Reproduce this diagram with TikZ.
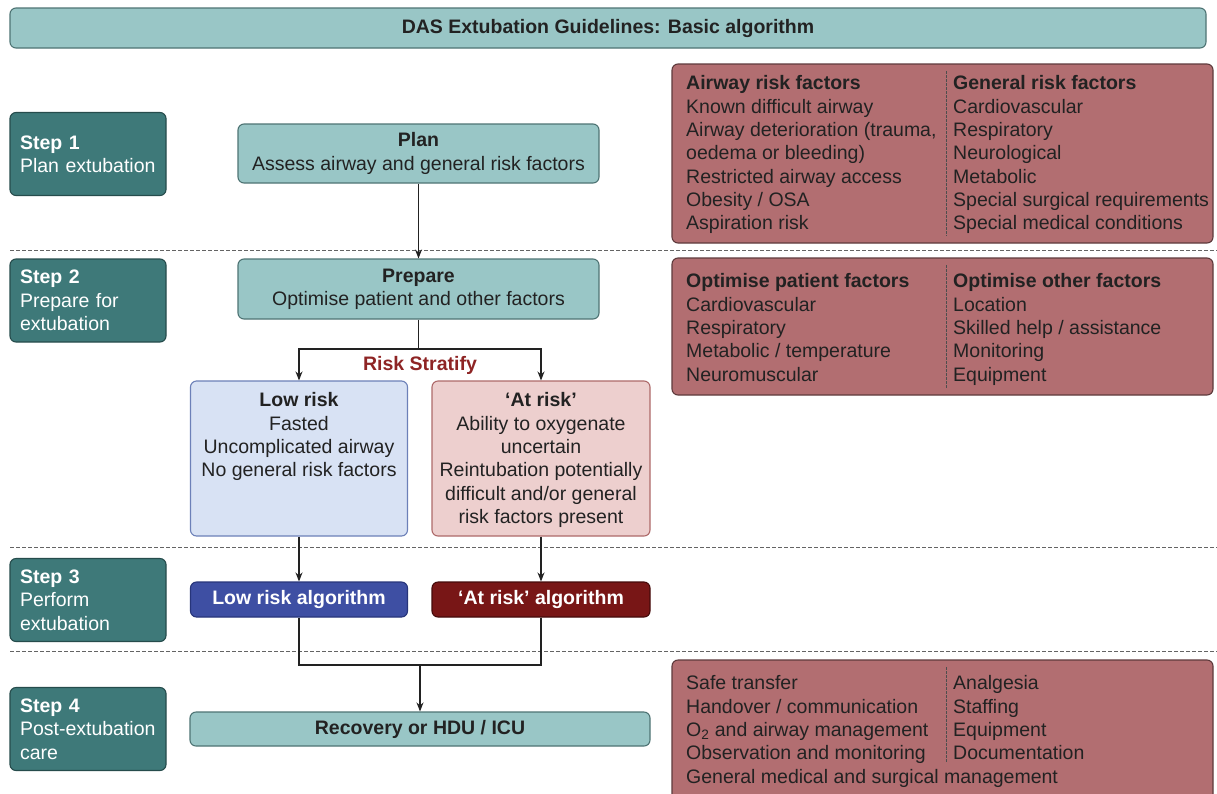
\documentclass[tikz,border=0pt]{standalone}
\usepackage{fontspec}
\setmainfont{Liberation Sans}
\usetikzlibrary{arrows.meta}
\definecolor{tealL}{HTML}{99C6C6}
\definecolor{tealLB}{HTML}{4E7474}
\definecolor{tealD}{HTML}{3E7979}
\definecolor{tealDB}{HTML}{264C4C}
\definecolor{rose}{HTML}{B26E71}
\definecolor{roseB}{HTML}{5E3A3C}
\definecolor{lowF}{HTML}{D8E2F4}
\definecolor{lowB}{HTML}{6C80B8}
\definecolor{atF}{HTML}{EDCFCE}
\definecolor{atB}{HTML}{AE6A6A}
\definecolor{lowA}{HTML}{3E4FA3}
\definecolor{lowAB}{HTML}{27357A}
\definecolor{atA}{HTML}{781616}
\definecolor{atAB}{HTML}{450A0A}
\definecolor{riskred}{HTML}{8E2424}
\definecolor{ink}{HTML}{222222}
\newcommand{\fl}{\vphantom{Alf}}
\begin{document}
\begin{tikzpicture}[x=1pt,y=-1pt,
  txt/.style={font=\fontsize{19.5}{23.3}\selectfont, text=ink},
  box/.style={draw, rounded corners=6pt, line width=1.1pt, inner sep=0pt},
  tealbox/.style={box, fill=tealL, draw=tealLB, txt, align=center},
  stepbox/.style={box, fill=tealD, draw=tealDB, txt, text=white, align=left,
     text width=136pt, inner xsep=10pt, minimum height=83pt},
  rosebox/.style={box, fill=rose, draw=roseB},
  coltxt/.style={txt, align=left, inner sep=0pt, anchor=north west},
  divider/.style={draw=ink!80, line width=0.8pt, dash pattern=on 2.5pt off 1.5pt},
  sepline/.style={draw=ink!70, line width=0.9pt, dash pattern=on 4pt off 2pt},
  conn/.style={draw=ink, line width=1.1pt},
  arr/.style={conn, -{Stealth[length=9pt,width=7pt]}}
]
\clip (0,0) rectangle (1217,793);
\fill[white] (0,0) rectangle (1217,793);

% title
\node[tealbox, minimum width=1196pt, minimum height=40pt, font=\bfseries\fontsize{19.5}{23.3}\selectfont] (title) at (608,28) {DAS Extubation Guidelines: Basic algorithm};

% separators
\coordinate (d1a) at (10,250); \coordinate (d1b) at (1217,250);
\coordinate (d2a) at (10,547); \coordinate (d2b) at (1217,547);
\coordinate (d3a) at (10,651); \coordinate (d3b) at (1217,651);
\draw[sepline] (d1a) -- (d1b);
\draw[sepline] (d2a) -- (d2b);
\draw[sepline] (d3a) -- (d3b);

% step boxes
\node[stepbox, minimum width=156pt] (s1) at (88,154) {\textbf{Step 1}\\Plan extubation};
\node[stepbox, minimum width=156pt] (s2) at (88,300.5) {\textbf{Step 2}\\Prepare for\\extubation};
\node[stepbox, minimum width=156pt] (s3) at (88,600) {\textbf{Step 3}\\Perform\\extubation};
\node[stepbox, minimum width=156pt] (s4) at (88,729) {\textbf{Step 4}\\Post-extubation\\care};

% main flow
\node[tealbox, minimum width=361pt, minimum height=59pt] (plan) at (418.5,153.5) {\textbf{Plan}\\Assess airway and general risk factors};
\node[tealbox, minimum width=361pt, minimum height=60pt] (prep) at (418.5,289) {\textbf{Prepare}\\Optimise patient and other factors};

\node[box, fill=lowF, draw=lowB, minimum width=217pt, minimum height=155pt] (low) at (299,458.5) {};
\node[box, fill=atF, draw=atB, minimum width=218pt, minimum height=155pt] (atr) at (541,458.5) {};
\node[txt, align=center, inner sep=0pt, anchor=north] (lowt) at (299,392.5) {\fl\textbf{Low risk}\\Fasted\\Uncomplicated airway\\No general risk factors};
\node[txt, align=center, inner sep=0pt, anchor=north] (atrt) at (541,392.5) {\fl\textbf{‘At risk’}\\Ability to oxygenate\\uncertain\\Reintubation potentially\\difficult and/or general\\risk factors present};

\node[box, fill=lowA, draw=lowAB, minimum width=217pt, minimum height=35pt, txt, text=white, font=\bfseries\fontsize{19.5}{23.3}\selectfont] (lowa) at (299,599.5) {Low risk algorithm};
\node[box, fill=atA, draw=atAB, minimum width=218pt, minimum height=35pt, txt, text=white, font=\bfseries\fontsize{19.5}{23.3}\selectfont] (atra) at (541,599.5) {‘At risk’ algorithm};

\node[tealbox, minimum width=460pt, minimum height=34pt, font=\bfseries\fontsize{19.5}{23.3}\selectfont] (rec) at (420,729) {Recovery or HDU / ICU};

\node[txt, text=riskred, font=\bfseries\fontsize{19.5}{23.3}\selectfont, inner sep=0pt, anchor=base] (rs) at (420,370) {Risk Stratify};

% connectors
\draw[arr] (plan.south) -- (prep.north);
\coordinate (sp) at (418.5,349);
\draw[conn] (prep.south) -- (sp);
\draw[arr] (sp) -| (low.north);
\draw[arr] (sp) -| (atr.north);
\draw[arr] (low.south) -- (lowa.north);
\draw[arr] (atr.south) -- (atra.north);
\coordinate (jn) at (420,665);
\draw[conn] (lowa.south) |- (jn);
\draw[conn] (atra.south) |- (jn);
\draw[arr] (jn) -- (rec.north);

% right-hand boxes
\node[rosebox, minimum width=541pt, minimum height=179pt] (rb1) at (942.5,153.5) {};
\coordinate (v1a) at (946,71); \coordinate (v1b) at (946,236);
\draw[divider] (v1a) -- (v1b);
\node[coltxt] (rb1a) at (686,75.5) {\fl\textbf{Airway risk factors}\\Known difficult airway\\Airway deterioration (trauma,\\oedema or bleeding)\\Restricted airway access\\Obesity / OSA\\Aspiration risk};
\node[coltxt] (rb1b) at (953,75.5) {\fl\textbf{General risk factors}\\Cardiovascular\\Respiratory\\Neurological\\Metabolic\\Special surgical requirements\\Special medical conditions};

\node[rosebox, minimum width=541pt, minimum height=137pt] (rb2) at (942.5,326.5) {};
\coordinate (v2a) at (946,265); \coordinate (v2b) at (946,388);
\draw[divider] (v2a) -- (v2b);
\node[coltxt] (rb2a) at (686,273.5) {\fl\textbf{Optimise patient factors}\\Cardiovascular\\Respiratory\\Metabolic / temperature\\Neuromuscular};
\node[coltxt] (rb2b) at (953,273.5) {\fl\textbf{Optimise other factors}\\Location\\Skilled help / assistance\\Monitoring\\Equipment};

\node[rosebox, minimum width=541pt, minimum height=150pt] (rb3) at (942.5,735) {};
\coordinate (v3a) at (946,667); \coordinate (v3b) at (946,763);
\draw[divider] (v3a) -- (v3b);
\node[coltxt] (rb3a) at (686,675.5) {\fl Safe transfer\\Handover / communication\\O\textsubscript{2} and airway management\\Observation and monitoring\\General medical and surgical management};
\node[coltxt] (rb3b) at (953,675.5) {\fl Analgesia\\Staffing\\Equipment\\Documentation};
\end{tikzpicture}
\end{document}
